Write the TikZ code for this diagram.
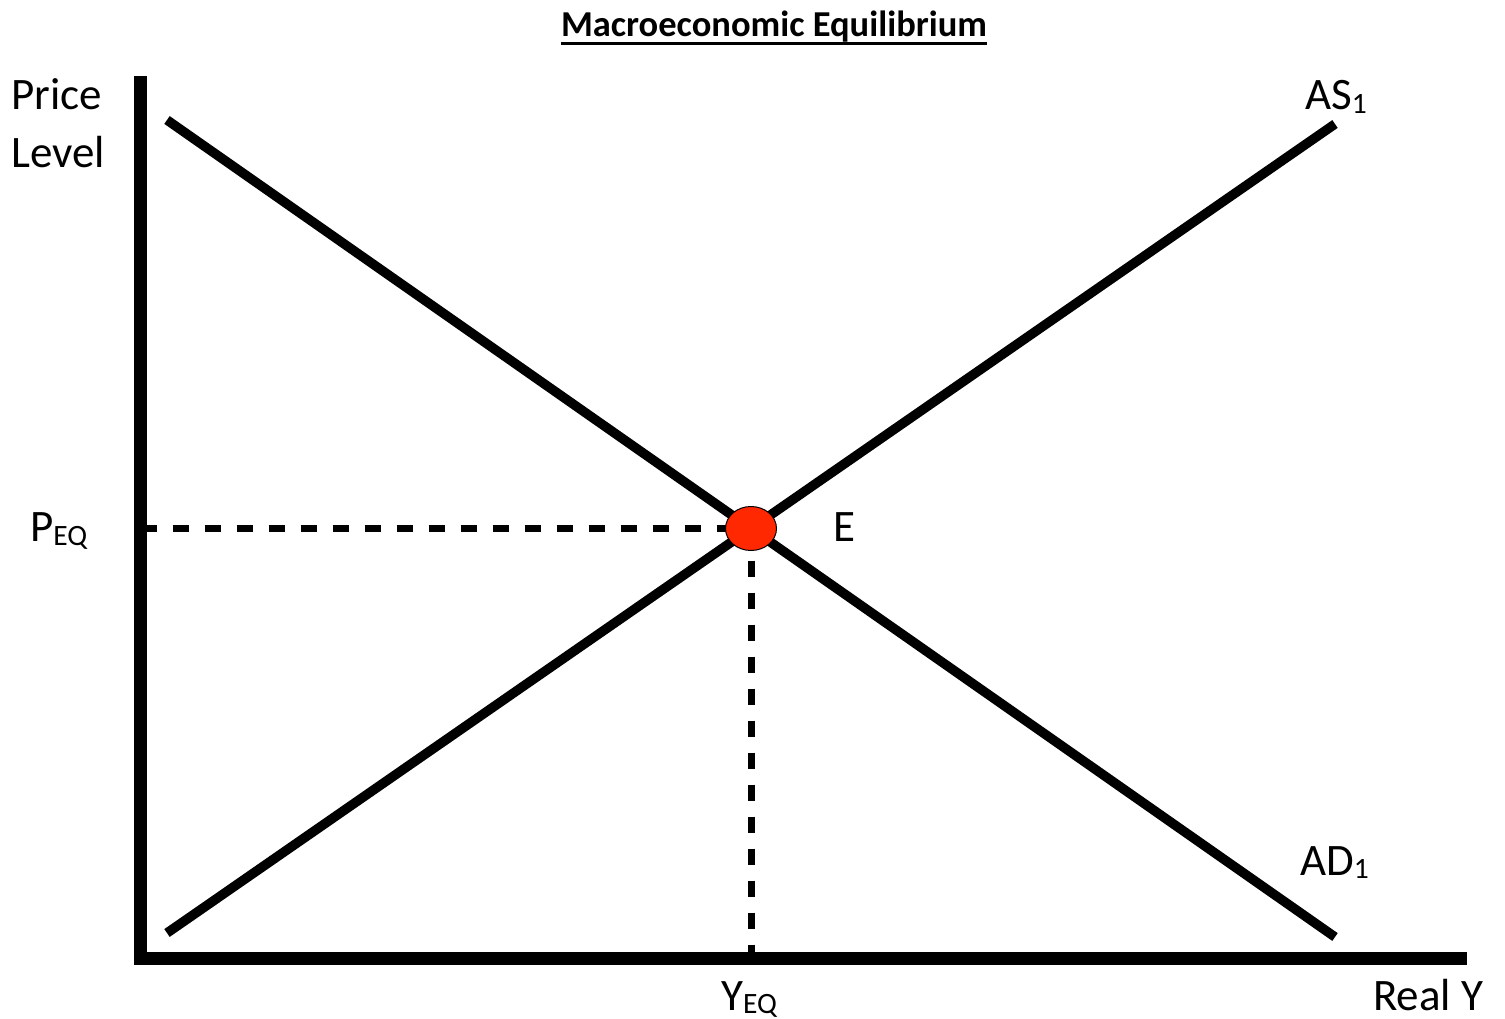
\documentclass[tikz,border=0pt]{standalone}
\usepackage{fontspec}
\setmainfont{Carlito}
\usetikzlibrary{shapes.geometric}
\definecolor{eqred}{RGB}{255,40,0}
\newcommand{\subtxt}[1]{\raisebox{-3.5pt}{\fontsize{29.5}{29.5}\selectfont #1}}
\begin{document}
\begin{tikzpicture}[x=1pt,y=-1pt,
  axisline/.style={line width=13pt, line join=miter},
  curveline/.style={line width=9.5pt},
  guideline/.style={line width=7pt, dash pattern=on 16pt off 16pt},
  lbl/.style={font=\fontsize{45}{45}\selectfont, anchor=base west, inner sep=0pt},
  eqdot/.style={ellipse, draw=black, line width=1pt, fill=eqred, minimum width=51pt, minimum height=44pt, inner sep=0pt}]
\useasboundingbox (0,0) rectangle (1505,1019);
% axes
\coordinate (ytop) at (140.5,76);
\coordinate (O) at (140.5,958.5);
\coordinate (xend) at (1467,958.5);
\coordinate (pax) at (140.5,528.5);
\coordinate (yax) at (751,958.5);
\coordinate (Epos) at (751,528.5);
% curves
\coordinate (ad1) at (167,120);
\coordinate (ad2) at (1335,937);
\coordinate (as1) at (167,933);
\coordinate (as2) at (1335,124);
\draw[guideline] (pax) -- (Epos);
\draw[guideline] (Epos) -- (yax);
\draw[axisline] (ytop) -- (O) -- (xend);
\draw[curveline] (ad1) -- (ad2);
\draw[curveline] (as1) -- (as2);
\node[eqdot] (E) at (Epos) {};
% labels
\node[font=\fontsize{36.5}{36.5}\selectfont\bfseries, anchor=base, inner sep=0pt] (title) at (774,36.5) {Macroeconomic Equilibrium};
\draw[line width=3pt] (title.base west |- 0,43.5) coordinate (ul1) -- (title.base east |- 0,43.5) coordinate (ul2);
\node[lbl] (price) at (11,110) {Price};
\node[lbl] (level) at (11,168) {Level};
\node[lbl] (peq) at (30,541.5) {P\subtxt{EQ}};
\node[lbl] (elbl) at (833,541.5) {E};
\node[lbl] (yeq) at (721,1010) {Y\subtxt{EQ}};
\node[lbl] (as) at (1305,110) {AS\subtxt{1}};
\node[lbl] (ad) at (1300,875) {AD\subtxt{1}};
\node[lbl] (realy) at (1373,1010.5) {Real Y};
\end{tikzpicture}
\end{document}
